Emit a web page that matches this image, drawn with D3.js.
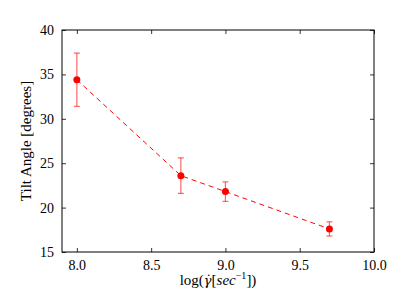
<!DOCTYPE html>
<html>
<head>
<meta charset="utf-8">
<script src="https://cdn.jsdelivr.net/npm/d3@7"></script>
<style>
  body { margin: 0; background: #fff; }
  text { font-family: "Liberation Serif", "DejaVu Serif", serif; }
</style>
</head>
<body>
<svg id="chart" width="415" height="297"></svg>
<script>
  // shear rate (log) vs tilt angle, with error
  var shearRates = [8.0, 8.7, 9.0, 9.7]
  var tiltAngles = [34.4, 23.6, 21.8, 17.6]
  var tiltErrors = [3.0, 2.0, 1.1, 0.8]
  var xTicks = [8.0, 8.5, 9.0, 9.5, 10.0]
  var yTicks = [15, 20, 25, 30, 35, 40]

  var margin = { top: 30, right: 41, bottom: 45, left: 62 }
  var width = 415 - margin.left - margin.right
  var height = 297 - margin.top - margin.bottom

  var svg = d3.select('#chart')
  var g = svg.append('g')
    .attr('transform', 'translate(' + margin.left + ',' + margin.top + ')')

  var x = d3.scaleLinear().domain([7.9, 10.0]).range([0, width])
  var y = d3.scaleLinear().domain([15, 40]).range([height, 0])

  var points = shearRates.map(function (d, i) {
    return { x: d, y: tiltAngles[i], e: tiltErrors[i] }
  })

  // axes, ticks pointing inward on all sides
  function styleAxis (sel) {
    sel.select('.domain').remove()
    sel.selectAll('.tick line').attr('stroke', '#000').attr('stroke-width', 0.8)
    sel.selectAll('.tick text').attr('font-size', 14).attr('fill', '#000')
  }

  g.append('g')
    .attr('transform', 'translate(0,' + height + ')')
    .call(d3.axisBottom(x).tickValues(xTicks).tickFormat(d3.format('.1f'))
      .tickSizeInner(-4).tickSizeOuter(0).tickPadding(8))
    .call(styleAxis)
  g.append('g')
    .call(d3.axisTop(x).tickValues(xTicks).tickFormat('')
      .tickSizeInner(-4).tickSizeOuter(0))
    .call(styleAxis)
  g.append('g')
    .call(d3.axisLeft(y).tickValues(yTicks).tickFormat(d3.format('d'))
      .tickSizeInner(-4).tickSizeOuter(0).tickPadding(8))
    .call(styleAxis)
  g.append('g')
    .attr('transform', 'translate(' + width + ',0)')
    .call(d3.axisRight(y).tickValues(yTicks).tickFormat('')
      .tickSizeInner(-4).tickSizeOuter(0))
    .call(styleAxis)

  g.append('rect')
    .attr('width', width)
    .attr('height', height)
    .attr('fill', 'none')
    .attr('stroke', '#000')
    .attr('stroke-width', 1)

  // dashed line
  var line = d3.line()
    .x(function (d) { return x(d.x) })
    .y(function (d) { return y(d.y) })
  g.append('path')
    .datum(points)
    .attr('d', line)
    .attr('fill', 'none')
    .attr('stroke', '#ff0000')
    .attr('stroke-width', 1)
    .attr('stroke-dasharray', '5,4')

  // error bars
  var bars = g.selectAll('.err').data(points).enter().append('g')
    .attr('stroke', '#ff0000')
    .attr('stroke-opacity', 0.6)
    .attr('stroke-width', 1.2)
  bars.append('line')
    .attr('x1', function (d) { return x(d.x) })
    .attr('x2', function (d) { return x(d.x) })
    .attr('y1', function (d) { return y(d.y - d.e) })
    .attr('y2', function (d) { return y(d.y + d.e) })
  bars.append('line')
    .attr('x1', function (d) { return x(d.x) - 3 })
    .attr('x2', function (d) { return x(d.x) + 3 })
    .attr('y1', function (d) { return y(d.y + d.e) })
    .attr('y2', function (d) { return y(d.y + d.e) })
  bars.append('line')
    .attr('x1', function (d) { return x(d.x) - 3 })
    .attr('x2', function (d) { return x(d.x) + 3 })
    .attr('y1', function (d) { return y(d.y - d.e) })
    .attr('y2', function (d) { return y(d.y - d.e) })

  g.selectAll('.pt').data(points).enter().append('circle')
    .attr('cx', function (d) { return x(d.x) })
    .attr('cy', function (d) { return y(d.y) })
    .attr('r', 3.5)
    .attr('fill', '#ff0000')

  // labels
  svg.append('text')
    .attr('transform', 'translate(28,' + (margin.top + height / 2) + ') rotate(-90)')
    .attr('text-anchor', 'middle')
    .attr('dominant-baseline', 'middle')
    .attr('font-size', 15)
    .text('Tilt Angle [degrees]')

  var xl = svg.append('text')
    .attr('x', margin.left + width / 2)
    .attr('y', 285)
    .attr('text-anchor', 'middle')
    .attr('font-size', 15)
  xl.append('tspan').text('log(')
  xl.append('tspan').attr('font-style', 'italic').attr('font-family', 'DejaVu Serif').attr('font-size', 13).text('\u03B3\u0307')
  xl.append('tspan').text('[')
  xl.append('tspan').attr('font-style', 'italic').text('sec')
  xl.append('tspan').attr('font-size', 10).attr('dy', -6).text('\u22121')
  xl.append('tspan').attr('dy', 6).text('])')
</script>
</body>
</html>
